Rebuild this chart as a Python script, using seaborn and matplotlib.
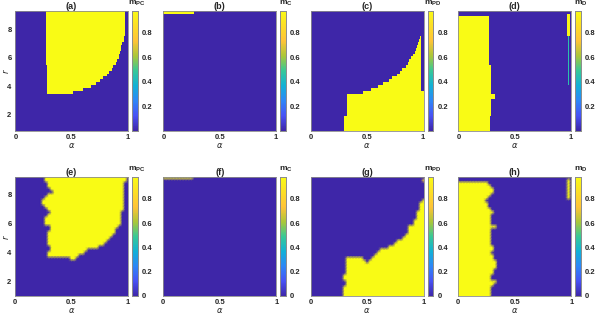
import numpy as np
import matplotlib
matplotlib.use("Agg")
import matplotlib.pyplot as plt
from matplotlib.colors import LinearSegmentedColormap
from matplotlib.path import Path
import seaborn as sns

# grids (alpha across, r up)
alpha_fine = np.round(np.arange(0, 1.0001, 0.01), 3)
r_fine = np.round(np.arange(1.0, 9.2001, 0.2), 3)
alpha_coarse = np.round(np.arange(0, 1.0001, 0.025), 4)
r_coarse = np.round(np.arange(1.0, 9.2001, 0.2), 3)

m_high = 0.978
m_low_top = 0.005
m_low_bottom = 0.0

# yellow regions, (alpha, r) vertices
region_a = [(0.275, 9.3), (0.275, 5.4), (0.29, 5.4), (0.29, 3.55), (0.39, 3.5),
            (0.55, 3.63), (0.67, 3.97), (0.78, 4.56), (0.87, 5.26), (0.925, 6.07),
            (0.955, 7.0), (0.97, 7.6), (0.975, 9.3)]
region_b = [(-0.01, 9.1), (-0.01, 9.3), (0.27, 9.3), (0.27, 9.1)]
region_c = [(0.29, 0.9), (0.29, 1.8), (0.31, 1.8), (0.31, 3.4), (0.33, 3.42),
            (0.45, 3.55), (0.55, 3.85), (0.68, 4.32), (0.80, 5.02), (0.874, 5.72),
            (0.934, 6.53), (0.972, 7.35), (0.985, 7.5), (0.985, 3.7), (1.01, 3.7),
            (1.01, 0.9)]
region_d = [(-0.01, 0.9), (-0.01, 8.9), (0.27, 8.9), (0.27, 5.4), (0.285, 5.4),
            (0.285, 3.5), (0.325, 3.5), (0.325, 3.1), (0.29, 3.1), (0.29, 1.9),
            (0.28, 1.9), (0.28, 0.9)]
strip_d = [(0.965, 7.5), (0.965, 9.0), (0.995, 9.0), (0.995, 7.5)]
line_d = [(0.975, 4.0), (0.975, 7.5), (0.985, 7.5), (0.985, 4.0)]

region_e = [(0.268, 9.3), (0.284, 8.59), (0.343, 8.25), (0.284, 8.02), (0.218, 7.49),
            (0.268, 7.27), (0.313, 6.76), (0.268, 6.53), (0.268, 5.96), (0.328, 5.73),
            (0.284, 5.5), (0.284, 4.47), (0.328, 4.31), (0.284, 4.13), (0.298, 3.74),
            (0.463, 3.72), (0.507, 3.44), (0.657, 4.24), (0.761, 4.47), (0.88, 5.27),
            (0.895, 5.78), (0.925, 5.87), (0.94, 6.88), (0.97, 7.22), (0.976, 9.3)]
region_f = [(-0.01, 9.1), (-0.01, 9.3), (0.26, 9.3), (0.26, 9.1)]
region_g = [(0.277, 0.9), (0.29, 1.6), (0.33, 1.96), (0.263, 2.34), (0.32, 2.53),
            (0.32, 3.56), (0.33, 3.67), (0.44, 3.67), (0.50, 3.37), (0.62, 4.24),
            (0.71, 4.47), (0.80, 4.93), (0.86, 5.27), (0.874, 5.84), (0.92, 6.07),
            (0.934, 6.76), (0.964, 6.99), (0.98, 7.68), (1.01, 7.68), (1.01, 0.9)]
spot_g = [(0.99, 8.8), (0.99, 9.05), (1.01, 9.05), (1.01, 8.8)]
region_h = [(-0.01, 0.9), (-0.01, 8.82), (0.254, 8.82), (0.28, 8.59), (0.328, 8.25),
            (0.239, 7.56), (0.269, 7.22), (0.328, 6.76), (0.284, 6.53), (0.284, 5.96),
            (0.328, 5.8), (0.284, 5.62), (0.284, 4.47), (0.328, 4.29), (0.284, 4.02),
            (0.31, 3.76), (0.328, 3.33), (0.328, 2.87), (0.269, 2.3), (0.328, 2.0),
            (0.284, 1.5), (0.284, 0.9)]
strip_h = [(0.97, 7.6), (0.97, 9.0), (0.99, 9.0), (0.99, 7.6)]

titles_top = ["(a)", "(b)", "(c)", "(d)"]
titles_bottom = ["(e)", "(f)", "(g)", "(h)"]
cbar_names = [r"$\mathregular{m_{PC}}$", r"$\mathregular{m_{C}}$",
              r"$\mathregular{m_{PD}}$", r"$\mathregular{m_{D}}$"]

regions_top = [[(region_a, m_high)], [(region_b, m_high)], [(region_c, m_high)],
               [(region_d, m_high), (line_d, 0.45), (strip_d, 0.95)]]
regions_bottom = [[(region_e, m_high)], [(region_f, m_high)],
                  [(region_g, m_high), (spot_g, 0.8)],
                  [(region_h, m_high), (strip_h, m_high)]]

parula = LinearSegmentedColormap.from_list("parula", [
    (0.2422, 0.1504, 0.6603), (0.2810, 0.3228, 0.9579), (0.1786, 0.5289, 0.9682),
    (0.0689, 0.6948, 0.8394), (0.2161, 0.7843, 0.5923), (0.6720, 0.7793, 0.2227),
    (0.9970, 0.7659, 0.2199), (0.9900, 0.8700, 0.1500), (0.9769, 0.9839, 0.0805)])


def build_grid(xs, ys, parts, low):
    X, Y = np.meshgrid(xs, ys)
    pts = np.column_stack([X.ravel(), Y.ravel()])
    z = np.full(X.size, low)
    for poly, val in parts:
        z[Path(poly).contains_points(pts)] = val
    return z.reshape(X.shape)


sns.set_style("white")
plt.rcParams["font.family"] = ["Liberation Sans", "DejaVu Sans"]
tick_col = "#262626"
edge_col = "#8c8c8c"

fig = plt.figure(figsize=(5.98, 3.17), dpi=100)
W, H = 598.0, 317.0
lefts = [15, 163.3, 310.7, 458.3]
ax_w = 113
rows = [(10.7, 130.7), (177.3, 296.0)]


def style_axes(ax, first):
    ax.tick_params(direction="in", length=2, width=0.5, colors=tick_col,
                   labelsize=5.5, pad=2.5)
    for lab in ax.get_xticklabels() + ax.get_yticklabels():
        lab.set_fontweight("bold")
    for s in ax.spines.values():
        s.set_visible(True)
        s.set_color(edge_col)
        s.set_linewidth(0.6)
    ax.set_xlabel(r"$\alpha$", fontsize=6, color=tick_col, va="center")
    ax.xaxis.set_label_coords(0.5, -0.125)
    if first:
        ax.set_ylabel(r"$r$", fontsize=6, color=tick_col, va="center")
        ax.yaxis.set_label_coords(-0.08, 0.5)
    else:
        ax.set_yticklabels([])


def style_cbar(cax, ticks):
    cax.yaxis.set_ticks(ticks)
    cax.yaxis.set_ticklabels([f"{t:g}" for t in ticks])
    cax.tick_params(direction="in", length=1.5, width=0.5, colors=tick_col,
                    labelsize=5.5, pad=3)
    for lab in cax.get_yticklabels():
        lab.set_fontweight("bold")
    for s in cax.spines.values():
        s.set_visible(True)
        s.set_color(edge_col)
        s.set_linewidth(0.6)


for row_i, (top, bot) in enumerate(rows):
    for k in range(4):
        x0 = lefts[k]
        ax = fig.add_axes([x0 / W, 1 - bot / H, ax_w / W, (bot - top) / H])
        cax = fig.add_axes([(x0 + ax_w + 4) / W, 1 - bot / H, 5.5 / W, (bot - top) / H])
        if row_i == 0:
            z = build_grid(alpha_fine, r_fine, regions_top[k], m_low_top)
            sns.heatmap(z, ax=ax, cmap=parula, cbar_ax=cax, vmin=m_low_top, vmax=m_high,
                        xticklabels=False, yticklabels=False, rasterized=True)
            ax.invert_yaxis()
            ax.set_xticks([np.interp(v, alpha_fine, np.arange(len(alpha_fine))) + 0.5
                           for v in (0, 0.5, 1)])
            ax.set_xticklabels(["0", "0.5", "1"])
            ax.set_yticks([np.interp(v, r_fine, np.arange(len(r_fine))) + 0.5
                           for v in (2, 4, 6, 8)])
            ax.set_yticklabels(["2", "4", "6", "8"])
            style_axes(ax, k == 0)
            style_cbar(cax, [0.2, 0.4, 0.6, 0.8])
            ax.set_title(titles_top[k], fontsize=6.5, fontweight="bold",
                         color=tick_col, pad=1.5)
        else:
            z = build_grid(alpha_coarse, r_coarse, regions_bottom[k], m_low_bottom)
            mesh = ax.pcolormesh(alpha_coarse, r_coarse, z, shading="gouraud",
                                 cmap=parula, vmin=m_low_bottom, vmax=m_high)
            ax.set_xlim(0, 1)
            ax.set_ylim(1, 9.2)
            ax.set_xticks([0, 0.5, 1])
            ax.set_xticklabels(["0", "0.5", "1"])
            ax.set_yticks([2, 4, 6, 8])
            ax.set_yticklabels(["2", "4", "6", "8"])
            fig.colorbar(mesh, cax=cax)
            style_axes(ax, k == 0)
            style_cbar(cax, [0, 0.2, 0.4, 0.6, 0.8])
            ax.set_title(titles_bottom[k], fontsize=6.5, fontweight="bold",
                         color=tick_col, pad=1.5)
        fig.text((x0 + ax_w + 9) / W, 1 - (top - 3) / H, cbar_names[k],
                 fontsize=6, fontweight="bold", color=tick_col, ha="center", va="bottom")

fig.savefig("out.png", dpi=100)
